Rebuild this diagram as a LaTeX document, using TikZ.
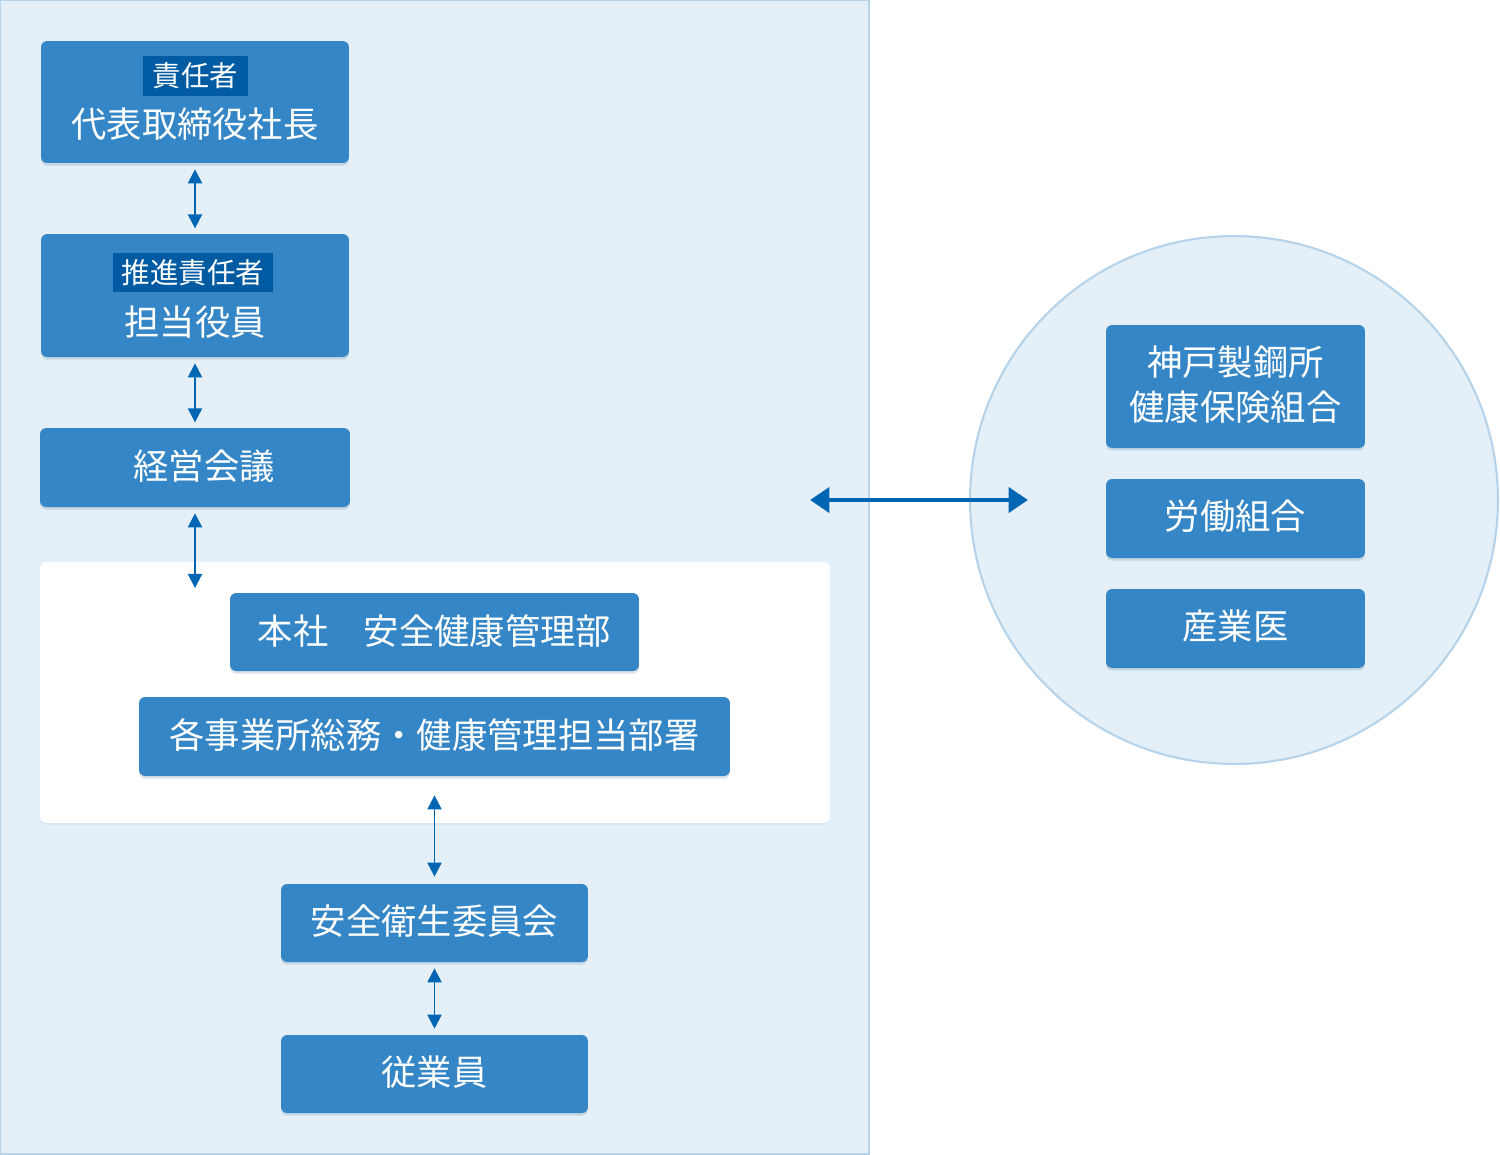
\documentclass[tikz,border=0pt]{standalone}
\usepackage{fontspec}
\setmainfont{Noto Sans CJK JP}
\usetikzlibrary{arrows.meta,shadows}
\definecolor{panelBlue}{HTML}{E4EFF8}
\definecolor{panelLine}{HTML}{B5D3EA}
\definecolor{boxBlue}{HTML}{3586C6}
\definecolor{tagBlue}{HTML}{005BA3}
\definecolor{arrowBlue}{HTML}{0066B3}
\begin{document}
\begin{tikzpicture}[x=0.02cm, y=-0.02cm,
	boxStyle/.style={rectangle, rounded corners=3.5pt, fill=boxBlue, inner sep=0pt, drop shadow={shadow xshift=0pt, shadow yshift=-1.5pt, opacity=0.15, fill=boxBlue!60!black}},
	textStyle/.style={text=white, font=\fontsize{20.1pt}{24pt}\selectfont, inner sep=0pt},
	tagStyle/.style={rectangle, fill=tagBlue, text=white, font=\fontsize{16.2pt}{19pt}\selectfont, inner sep=0pt},
	linkArrow/.style={draw=arrowBlue, line width=1.1pt, {Triangle[width=8pt,length=8pt]}-{Triangle[width=8pt,length=8pt]}}]
			\useasboundingbox (0,0) rectangle (1500,1154);
			\fill[white] (0,0) rectangle (1500,1154);
			\draw[fill=panelBlue, draw=panelLine, line width=1.2pt](0,0) rectangle (869,1154);
			\node[circle, fill=panelBlue, draw=panelLine, line width=1.2pt, minimum size=10.56cm, inner sep=0pt](partnerCircle) at (1234,500){};
			\node[rectangle, rounded corners=3.5pt, fill=white, minimum width=15.8cm, minimum height=5.22cm, drop shadow={shadow xshift=0pt, shadow yshift=-1pt, opacity=0.08, fill=boxBlue}](deptFrame) at (435,692.5){};

			% left column
			\node[boxStyle, minimum width=6.16cm, minimum height=2.44cm](presidentBox) at (195,102){};
			\node[tagStyle, minimum width=2.1cm, minimum height=0.8cm](presidentTag) at (195.5,76){責任者};
			\node[textStyle](presidentText) at (195,124){代表取締役社長};

			\node[boxStyle, minimum width=6.16cm, minimum height=2.46cm](officerBox) at (195,295.5){};
			\node[tagStyle, minimum width=3.2cm, minimum height=0.78cm](officerTag) at (193,272.5){推進責任者};
			\node[textStyle](officerText) at (195,322){担当役員};

			\node[boxStyle, minimum width=6.2cm, minimum height=1.58cm](meetingBox) at (195,467.5){};
			\node[textStyle](meetingText) at (204,466){経営会議};

			\node[boxStyle, minimum width=8.18cm, minimum height=1.56cm](hqBox) at (434.5,632){};
			\node[textStyle](hqText) at (434.5,631){本社　安全健康管理部};

			\node[boxStyle, minimum width=11.82cm, minimum height=1.58cm](branchBox) at (434.5,736.5){};
			\node[textStyle](branchText) at (434.5,735){各事業所総務・健康管理担当部署};

			\node[boxStyle, minimum width=6.14cm, minimum height=1.56cm](committeeBox) at (434.5,923){};
			\node[textStyle](committeeText) at (434.5,921){安全衛生委員会};

			\node[boxStyle, minimum width=6.14cm, minimum height=1.56cm](staffBox) at (434.5,1074){};
			\node[textStyle](staffText) at (434.5,1072){従業員};

			% right circle
			\node[boxStyle, minimum width=5.18cm, minimum height=2.46cm](insuranceBox) at (1235.5,386.5){};
			\node[textStyle, align=center, font=\fontsize{20.1pt}{25.5pt}\selectfont](insuranceText) at (1235.5,385){神戸製鋼所\\健康保険組合};
			\node[boxStyle, minimum width=5.18cm, minimum height=1.58cm](unionBox) at (1235.5,518.5){};
			\node[textStyle](unionText) at (1235.5,516){労働組合};
			\node[boxStyle, minimum width=5.18cm, minimum height=1.58cm](doctorBox) at (1235.5,628.5){};
			\node[textStyle](doctorText) at (1235.5,626){産業医};

			% connectors
			\coordinate (frameEntry) at (195,588);
			\coordinate (linkLeft) at (810,500);
			\coordinate (linkRight) at (1028,500);
			\draw[linkArrow, shorten <=3.4pt, shorten >=3pt](presidentBox.south) -- (officerBox.north);
			\draw[linkArrow, shorten <=3.4pt, shorten >=3pt](officerBox.south) -- (meetingBox.north);
			\draw[linkArrow, shorten <=3.4pt](meetingBox.south) -- (frameEntry);
			\draw[linkArrow, shorten <=10.8pt, shorten >=4pt](branchBox.south) -- (committeeBox.north);
			\draw[linkArrow, shorten <=3.4pt, shorten >=3.4pt](committeeBox.south) -- (staffBox.north);
			\draw[draw=arrowBlue, line width=2.8pt, {Triangle[width=14pt,length=11pt]}-{Triangle[width=14pt,length=11pt]}](linkLeft) -- (linkRight);
		\end{tikzpicture}
\end{document}
